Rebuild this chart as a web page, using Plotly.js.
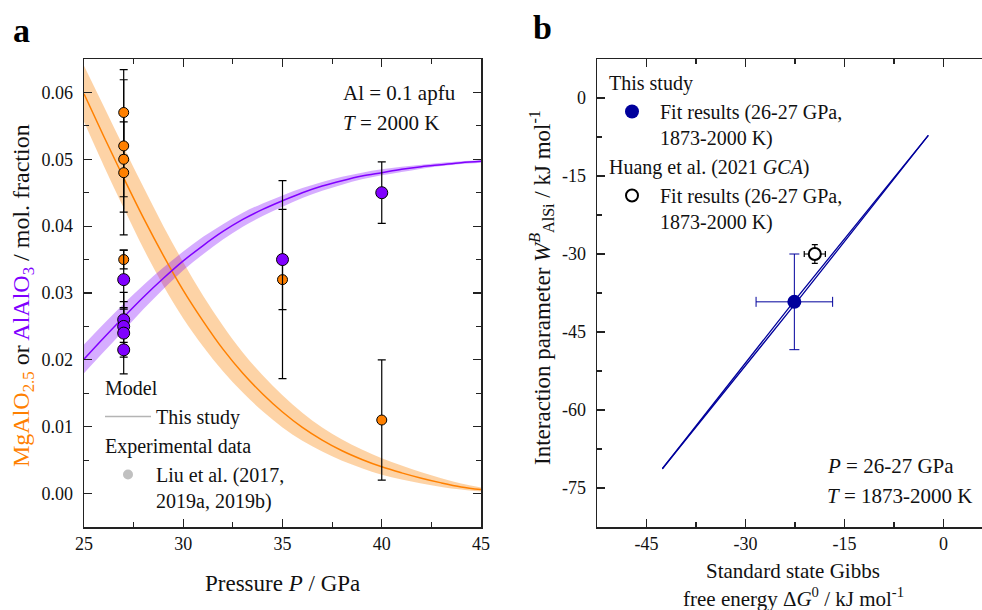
<!DOCTYPE html>
<html>
<head>
<meta charset="utf-8">
<script src="https://cdn.plot.ly/plotly-3.0.1.min.js"></script>
<style>html,body{margin:0;padding:0;background:#fff;}#chart{width:982px;height:610px;}</style>
</head>
<body>
<div id="chart"></div>
<script>
// ---------- Panel a: model curves (pressure in GPa, mole fractions) ----------
const pressureGrid = [25,26,27,28,29,30,31,32,33,34,35,36,37,38,39,40,41,42,43,44,45];
const mgAlO25Model = [0.0598,0.0534,0.0472,0.0412,0.0356,0.0304,0.0258,0.0216,0.0180,0.0149,0.0122,0.0099,0.0080,0.0064,0.0051,0.0040,0.0031,0.0023,0.0016,0.0010,0.0006];
const mgAlO25Upper = [0.0640,0.0579,0.0518,0.0458,0.0400,0.0346,0.0296,0.0251,0.0211,0.0177,0.0147,0.0121,0.0099,0.0081,0.0066,0.0053,0.0042,0.0032,0.0023,0.0015,0.0009];
const mgAlO25Lower = [0.0556,0.0490,0.0427,0.0366,0.0311,0.0262,0.0220,0.0183,0.0151,0.0123,0.0099,0.0079,0.0063,0.0049,0.0038,0.0028,0.0021,0.0015,0.0010,0.0006,0.0003];
const alAlO3Model  = [0.0201,0.0233,0.0264,0.0294,0.0322,0.0348,0.0371,0.0392,0.0410,0.0425,0.0438,0.0450,0.0460,0.0468,0.0475,0.0480,0.0485,0.0489,0.0492,0.0495,0.0497];
const alAlO3Upper  = [0.0223,0.0254,0.0284,0.0312,0.0338,0.0362,0.0384,0.0403,0.0420,0.0434,0.0446,0.0457,0.0466,0.0474,0.0480,0.0485,0.0489,0.0492,0.0495,0.0497,0.0499];
const alAlO3Lower  = [0.0180,0.0212,0.0244,0.0276,0.0306,0.0334,0.0358,0.0380,0.0399,0.0415,0.0429,0.0442,0.0453,0.0462,0.0470,0.0476,0.0481,0.0486,0.0490,0.0493,0.0495];

// ---------- Panel a: experimental data (Liu et al.) ----------
const expMgP   = [27,27,27,27,27,35,40];
const expMg    = [0.057,0.052,0.050,0.048,0.035,0.032,0.011];
const expMgErr = [0.0064,0.0099,0.0056,0.0093,0.0014,0.0148,0.0090];
const expAlP   = [27,27,27,27,27,35,40];
const expAl    = [0.032,0.026,0.025,0.024,0.0215,0.035,0.045];
const expAlErr = [0.0044,0.0018,0.0037,0.0061,0.0011,0.0075,0.0046];

// ---------- Panel b ----------
const fitLineG      = [-42.6,-22.6,-2.3];
const fitLineUpperW = [-71.3,-39.0,-7.2];
const fitLineLowerW = [-71.3,-39.8,-7.2];
const thisStudyG    = [-22.6];
const thisStudyW    = [-39.2];
const thisStudyGErr = [5.8];
const thisStudyWErr = [9.2];
const huangG        = [-19.5];
const huangW        = [-30.0];
const huangGErr     = [1.6];
const huangWErr     = [1.8];

// tick labels
const aXTicks = [25,30,35,40,45];
const aYTicks = [0,0.01,0.02,0.03,0.04,0.05,0.06];
const aYTickText = ['0.00','0.01','0.02','0.03','0.04','0.05','0.06'];
const bXTicks = [-45,-30,-15,0];
const bXTickText = ['-45','-30','-15','0'];
const bYTicks = [0,-15,-30,-45,-60,-75];
const bYTickText = ['0','-15','-30','-45','-60','-75'];

const ORANGE = '#ff8000';
const PURPLE = '#8000ff';
const BLUE = '#00009c';
const FONT = 'Liberation Serif, Times New Roman, serif';
const W = 982, H = 610;
const px = x => x / W;
const py = y => 1 - y / H;

const traces = [];
// bands
traces.push({x: pressureGrid, y: mgAlO25Upper, xaxis:'x', yaxis:'y', mode:'lines', line:{width:0, shape:'spline'}, showlegend:false, hoverinfo:'skip'});
traces.push({x: pressureGrid, y: mgAlO25Lower, xaxis:'x', yaxis:'y', mode:'lines', line:{width:0, shape:'spline'}, fill:'tonexty', fillcolor:'rgba(250,128,0,0.35)', showlegend:false, hoverinfo:'skip'});
traces.push({x: pressureGrid, y: alAlO3Upper, xaxis:'x', yaxis:'y', mode:'lines', line:{width:0, shape:'spline'}, showlegend:false, hoverinfo:'skip'});
traces.push({x: pressureGrid, y: alAlO3Lower, xaxis:'x', yaxis:'y', mode:'lines', line:{width:0, shape:'spline'}, fill:'tonexty', fillcolor:'rgba(128,0,255,0.32)', showlegend:false, hoverinfo:'skip'});
// model lines
traces.push({x: pressureGrid, y: mgAlO25Model, xaxis:'x', yaxis:'y', mode:'lines', line:{color:ORANGE, width:1.5, shape:'spline'}, showlegend:false});
traces.push({x: pressureGrid, y: alAlO3Model, xaxis:'x', yaxis:'y', mode:'lines', line:{color:PURPLE, width:1.5, shape:'spline'}, showlegend:false});
// experimental data
traces.push({x: expMgP, y: expMg, xaxis:'x', yaxis:'y', mode:'markers',
  marker:{color:ORANGE, size:10, line:{color:'#000', width:1}},
  error_y:{type:'data', array:expMgErr, visible:true, color:'#000', thickness:1.2, width:4}, showlegend:false});
traces.push({x: expAlP, y: expAl, xaxis:'x', yaxis:'y', mode:'markers',
  marker:{color:PURPLE, size:12, line:{color:'#000', width:1}},
  error_y:{type:'data', array:expAlErr, visible:true, color:'#000', thickness:1.2, width:4}, showlegend:false});
// legend-only entries panel a
traces.push({x:[null], y:[null], xaxis:'x', yaxis:'y', mode:'lines', line:{color:'#b4b4b4', width:1.5},
  name:'This study', legend:'legend', legendgroup:'model', legendgrouptitle:{text:'Model'}});
traces.push({x:[null], y:[null], xaxis:'x', yaxis:'y', mode:'markers', marker:{color:'#c0c0c0', size:10},
  name:'Liu et al. (2017,<br>2019a, 2019b)', legend:'legend', legendgroup:'exp', legendgrouptitle:{text:'Experimental data'}});

// Panel b
traces.push({x: fitLineG, y: fitLineUpperW, xaxis:'x2', yaxis:'y2', mode:'lines', line:{color:BLUE, width:1.3}, showlegend:false});
traces.push({x: fitLineG, y: fitLineLowerW, xaxis:'x2', yaxis:'y2', mode:'lines', line:{color:BLUE, width:1.3}, showlegend:false});
traces.push({x: thisStudyG, y: thisStudyW, xaxis:'x2', yaxis:'y2', mode:'markers',
  marker:{color:BLUE, size:14},
  error_x:{type:'data', array:thisStudyGErr, visible:true, color:BLUE, thickness:1, width:5},
  error_y:{type:'data', array:thisStudyWErr, visible:true, color:BLUE, thickness:1, width:5},
  showlegend:false});
traces.push({x: huangG, y: huangW, xaxis:'x2', yaxis:'y2', mode:'markers',
  marker:{color:'#fff', size:12, line:{color:'#000', width:2}},
  error_x:{type:'data', array:huangGErr, visible:true, color:'#000', thickness:1.2, width:3},
  error_y:{type:'data', array:huangWErr, visible:true, color:'#000', thickness:1.2, width:3},
  showlegend:false});
traces.push({x:[null], y:[null], xaxis:'x2', yaxis:'y2', mode:'markers', marker:{color:BLUE, size:14},
  name:'Fit results (26-27 GPa,<br>1873-2000 K)', legend:'legend2', legendgroup:'this', legendgrouptitle:{text:'This study'}});
traces.push({x:[null], y:[null], xaxis:'x2', yaxis:'y2', mode:'markers', marker:{color:'#fff', size:12, line:{color:'#000', width:2}},
  name:'Fit results (26-27 GPa,<br>1873-2000 K)', legend:'legend2', legendgroup:'huang', legendgrouptitle:{text:'Huang et al. (2021 <i>GCA</i>)'}});

const axisCommon = {
  showgrid:false, zeroline:false, showline:true, linecolor:'#222', linewidth:1.5,
  ticks:'inside', ticklen:8, tickwidth:1.2, tickcolor:'#222',
  tickfont:{family:FONT, size:18, color:'#111'}, ticklabelstandoff:6,
  fixedrange:true
};

const legendCommon = {
  xanchor:'left', yanchor:'top', bgcolor:'rgba(0,0,0,0)',
  font:{family:FONT, size:20, color:'#111'}, grouptitlefont:{family:FONT, size:20, color:'#111'},
  tracegroupgap:0, itemwidth:46, valign:'top'
};

const layout = {
  width:W, height:H,
  margin:{l:0, r:0, t:0, b:0},
  paper_bgcolor:'#fff', plot_bgcolor:'#fff',
  font:{family:FONT, color:'#111', size:18},
  xaxis: Object.assign({}, axisCommon, {
    domain:[px(84), px(481)], range:[25,45], anchor:'y', mirror:'allticks',
    tickmode:'array', tickvals:aXTicks, ticklabelstandoff:0,
    minor:{dtick:2.5, tick0:25, ticks:'inside', ticklen:5, tickwidth:1.2, tickcolor:'#222', showgrid:false}
  }),
  yaxis: Object.assign({}, axisCommon, {
    domain:[py(527), py(59)], range:[-0.005, 0.065], anchor:'x', mirror:'allticks',
    tickmode:'array', tickvals:aYTicks, ticktext:aYTickText,
    minor:{dtick:0.005, tick0:0, ticks:'inside', ticklen:5, tickwidth:1.2, tickcolor:'#222', showgrid:false}
  }),
  xaxis2: Object.assign({}, axisCommon, {
    domain:[px(597), 1], range:[-52.5, 5.83], anchor:'y2', mirror:'allticks',
    tickmode:'array', tickvals:bXTicks, ticktext:bXTickText, ticklabelstandoff:0,
    minor:{dtick:7.5, tick0:0, ticks:'inside', ticklen:5, tickwidth:1.2, tickcolor:'#222', showgrid:false}
  }),
  yaxis2: Object.assign({}, axisCommon, {
    domain:[py(527), py(59)], range:[-82.5, 7.5], anchor:'x2', mirror:false,
    tickmode:'array', tickvals:bYTicks, ticktext:bYTickText,
    minor:{dtick:7.5, tick0:0, ticks:'inside', ticklen:5, tickwidth:1.2, tickcolor:'#222', showgrid:false}
  }),
  legend: Object.assign({}, legendCommon, {x:px(100), y:py(368)}),
  legend2: Object.assign({}, legendCommon, {x:px(604), y:py(63)}),
  annotations:[
    {text:'<b>a</b>', xref:'paper', yref:'paper', x:px(21), y:py(30), xanchor:'center', yanchor:'middle', showarrow:false, font:{family:FONT, size:34, color:'#000'}},
    {text:'<b>b</b>', xref:'paper', yref:'paper', x:px(542), y:py(28), xanchor:'center', yanchor:'middle', showarrow:false, font:{family:FONT, size:34, color:'#000'}},
    {text:'Al = 0.1 apfu', xref:'paper', yref:'paper', x:px(341), y:py(93), xanchor:'left', yanchor:'middle', showarrow:false, font:{family:FONT, size:21}},
    {text:'<i>T</i> = 2000 K', xref:'paper', yref:'paper', x:px(341), y:py(123), xanchor:'left', yanchor:'middle', showarrow:false, font:{family:FONT, size:21}},
    {text:'<span style="color:'+ORANGE+'">MgAlO<sub>2.5</sub></span> or <span style="color:'+PURPLE+'">AlAlO<sub>3</sub></span> / mol. fraction',
      xref:'paper', yref:'paper', x:px(23), y:py(296), xanchor:'center', yanchor:'middle', textangle:-90, showarrow:false, font:{family:FONT, size:24}},
    {text:'Pressure <i>P</i> / GPa', xref:'paper', yref:'paper', x:px(282), y:py(583), xanchor:'center', yanchor:'middle', showarrow:false, font:{family:FONT, size:23}},
    {text:'Interaction parameter <i>W</i><sup><i>B</i></sup><sub>AlSi</sub> / kJ mol<sup>-1</sup>',
      xref:'paper', yref:'paper', x:px(541), y:py(288), xanchor:'center', yanchor:'middle', textangle:-90, showarrow:false, font:{family:FONT, size:23}},
    {text:'Standard state Gibbs',
      xref:'paper', yref:'paper', x:px(793), y:py(571), xanchor:'center', yanchor:'middle', showarrow:false, font:{family:FONT, size:21}},
    {text:'free energy Δ<i>G</i><sup>0</sup> / kJ mol<sup>-1</sup>',
      xref:'paper', yref:'paper', x:px(793), y:py(597), xanchor:'center', yanchor:'middle', showarrow:false, font:{family:FONT, size:21}},
    {text:'<i>P</i> = 26-27 GPa', xref:'paper', yref:'paper', x:px(825), y:py(466), xanchor:'left', yanchor:'middle', showarrow:false, font:{family:FONT, size:21}},
    {text:'<i>T</i> = 1873-2000 K', xref:'paper', yref:'paper', x:px(825), y:py(496), xanchor:'left', yanchor:'middle', showarrow:false, font:{family:FONT, size:21}}
  ]
};

Plotly.newPlot('chart', traces, layout, {displayModeBar:false, staticPlot:true});
</script>
</body>
</html>
